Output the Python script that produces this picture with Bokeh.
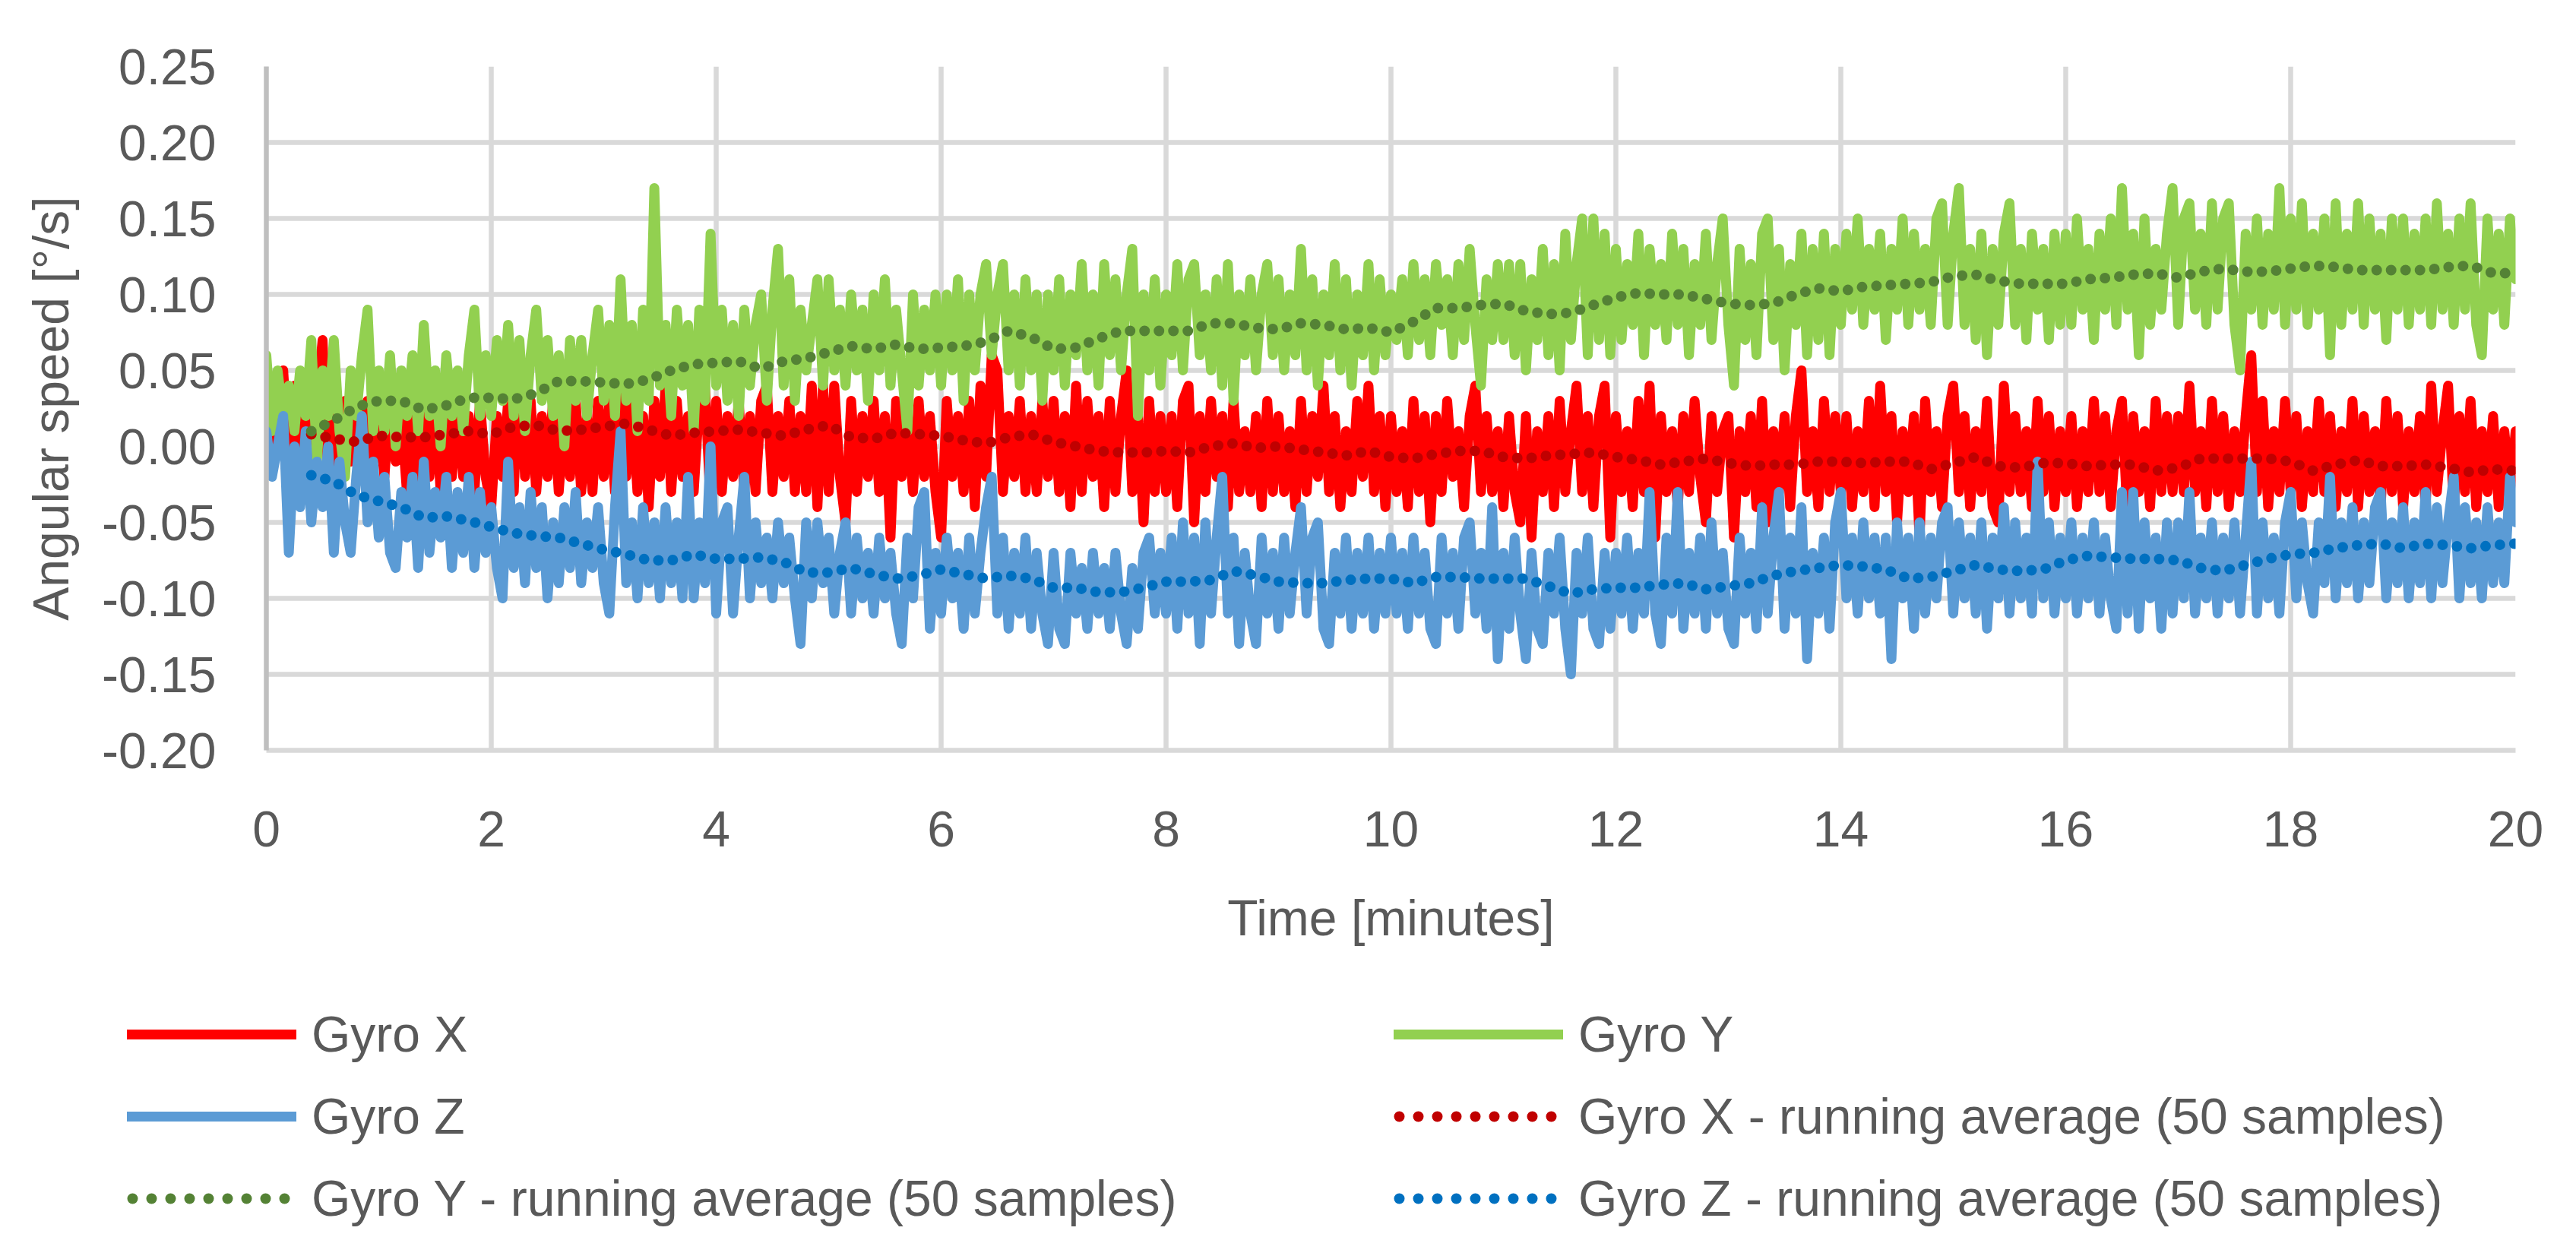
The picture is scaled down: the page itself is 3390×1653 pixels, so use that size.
from bokeh.plotting import figure
from bokeh.layouts import column
from bokeh.models import FixedTicker, NumeralTickFormatter, Legend, LegendItem, Range1d, ColumnDataSource
from bokeh.embed import file_html
from bokeh.resources import INLINE

# ---------------- data ----------------
# raw gyro readings, one value every 0.05 min, in units of 0.01 deg/s (one row per minute)
raw_time_min = [round(0.05 * i, 2) for i in range(401)]

gyro_x_centi = [
    1, -1, 3, 5, -1, 4, -2, 2, -1, 3, 7, -2, 2, -2, 3, -1, 2, -2, 3, -1,
    2, -2, 3, -1, 2, -3, 3, -2, 2, -2, 3, -3, 2, -2, 3, -2, 2, -3, 3, -2,
    -4, 2, -2, 3, -3, 6, -2, 3, -3, 2, -2, 3, -3, 2, -2, 3, -3, 2, -3, 3,
    -2, 3, -3, 4, -2, 3, -3, 2, -4, 3, -2, 4, -3, 3, -2, 2, -3, 3, 4, -4,
    3, -3, 2, -2, 3, -3, 2, -3, 3, 4, -3, 2, -2, 3, -3, 2, -3, 4, -4, 4,
    -3, 4, -2, -5, 3, -3, 2, -2, 3, -3, 2, -6, 3, -2, 2, -3, 3, -2, 2, -3,
    -6, 3, -2, 2, -3, 3, -4, 4, -2, 6, 5, -3, 2, -2, 3, -3, 2, -3, 3, -2,
    3, -3, 2, -4, 4, -3, 3, -2, 2, -4, 3, -3, 2, 5, -3, 2, -5, 3, -3, 2,
    -3, 2, -4, 3, 4, -5, 2, -3, 3, -2, 2, -4, 3, -3, 1, -3, 2, -4, 3, -3,
    2, -3, 1, -4, 3, -3, 2, -2, 4, -3, 2, -4, 1, -3, 3, -2, 4, -3, 2, -4,
    2, -3, 1, -4, 3, -3, 2, -5, 2, -3, 3, -2, 1, -4, 2, 4, -3, 2, -3, 1,
    -4, 2, -3, -5, 2, -6, 1, -3, 2, -4, 3, -3, 1, 4, -3, 2, -4, 2, 4, -6,
    2, -3, 1, -4, 3, -3, 4, -6, 2, -3, 1, -4, 2, -3, 3, -2, -5, 2, -3, 1,
    2, -6, 1, -3, 2, -4, 3, -5, 1, -3, 2, -4, 2, 5, -3, 1, -4, 3, -3, 2,
    -3, 2, -4, 1, -3, 3, -4, 4, -3, 2, -5, 1, -3, 2, -6, 3, -3, 1, -4, 2,
    4, -3, 2, -4, 1, -3, 3, -4, -5, 4, -3, 2, -3, 1, -4, 3, -3, 2, -4, 1,
    -3, 2, -4, 1, -3, 3, -3, 2, -4, 1, 3, -5, 2, -3, 1, -4, 3, -3, 2, -3,
    2, -3, 4, -3, 1, -4, 3, -3, 2, -4, 1, -3, 2, 6, -3, 3, -4, 1, -3, 3,
    -3, 2, -4, 1, -3, 3, -3, 2, -4, 1, -3, 3, -4, 2, -3, 1, -4, 3, -3, 2,
    -4, 1, -3, 2, -4, 4, -3, 1, 4, -4, 2, -3, 3, -4, 1, -3, 2, -4, 1, -3,
    1,
]

gyro_y_centi = [
    6, 1, 5, 2, 4, 1, 5, 2, 7, -1, 5, 2, 7, 1, -2, 5, 2, 6, 9, 1,
    5, 1, 6, 0, 5, 2, 6, 1, 8, 2, 5, 0, 6, 2, 5, 1, 6, 9, 2, 6,
    2, 7, 3, 8, 2, 7, 1, 6, 9, 3, 7, 2, 6, 0, 7, 3, 7, 2, 6, 9,
    3, 8, 2, 11, 3, 8, 1, 9, 3, 17, 4, 8, 2, 9, 4, 8, 1, 9, 3, 14,
    4, 9, 3, 8, 2, 9, 4, 8, 10, 3, 9, 13, 4, 11, 3, 9, 5, 8, 11, 4,
    11, 5, 9, 4, 10, 5, 9, 3, 10, 5, 11, 4, 9, 5, 1, 10, 4, 9, 5, 10,
    4, 10, 5, 11, 3, 10, 5, 10, 12, 6, 10, 12, 5, 10, 4, 11, 5, 10, 3, 10,
    5, 11, 4, 10, 6, 12, 5, 10, 4, 12, 6, 11, 5, 10, 13, 2, 10, 5, 11, 4,
    10, 6, 12, 5, 11, 12, 6, 10, 5, 11, 4, 12, 3, 10, 6, 11, 5, 10, 12, 6,
    11, 5, 10, 6, 13, 5, 11, 4, 10, 6, 12, 5, 11, 4, 10, 6, 12, 5, 11, 6,
    10, 7, 11, 6, 12, 7, 11, 6, 12, 8, 11, 6, 12, 7, 13, 8, 4, 11, 7, 12,
    7, 12, 6, 12, 5, 11, 7, 13, 6, 12, 5, 14, 7, 12, 15, 6, 15, 7, 14, 6,
    13, 7, 12, 8, 14, 6, 13, 8, 12, 7, 14, 8, 13, 6, 12, 8, 14, 7, 12, 15,
    8, 4, 13, 7, 12, 6, 14, 15, 7, 13, 5, 12, 8, 14, 6, 13, 7, 14, 6, 13,
    8, 14, 9, 15, 8, 13, 9, 14, 7, 13, 9, 15, 8, 14, 9, 13, 8, 15, 16, 8,
    14, 17, 8, 13, 7, 14, 6, 13, 8, 14, 16, 8, 13, 7, 14, 9, 13, 7, 14, 8,
    14, 8, 15, 9, 13, 7, 14, 9, 15, 8, 17, 9, 14, 6, 15, 8, 13, 9, 14, 17,
    8, 15, 16, 9, 14, 8, 16, 9, 15, 16, 8, 5, 14, 9, 15, 8, 14, 9, 17, 8,
    15, 9, 16, 8, 14, 9, 15, 6, 16, 8, 14, 9, 16, 8, 15, 9, 14, 7, 15, 9,
    15, 8, 14, 9, 15, 8, 16, 9, 14, 8, 15, 9, 16, 8, 6, 15, 9, 14, 8, 15,
    11,
]

gyro_z_centi = [
    1, -2, 0, 2, -7, 0, -4, 1, -5, -1, -4, 0, -7, -1, -5, -7, -2, 2, -5, -1,
    -6, -2, -7, -8, -3, -6, -2, -8, -1, -7, -3, -6, -2, -8, -3, -7, -2, -8, -3, -7,
    -4, -8, -10, -1, -8, -4, -9, -3, -8, -4, -10, -5, -9, -4, -8, -3, -9, -5, -8, -4,
    -9, -11, -4, 1, -9, -5, -10, -4, -9, -5, -10, -4, -9, -5, -10, -2, -10, -5, -9, 0,
    -11, -5, -4, -11, -6, -2, -10, -5, -9, -6, -10, -5, -9, -6, -10, -13, -5, -10, -5, -9,
    -6, -11, -7, -5, -11, -6, -10, -7, -11, -6, -10, -7, -11, -13, -6, -10, -4, -3, -12, -7,
    -11, -6, -10, -7, -12, -6, -11, -7, -4, -2, -11, -6, -12, -7, -11, -6, -12, -7, -11, -13,
    -7, -12, -13, -7, -11, -8, -12, -7, -11, -8, -12, -7, -11, -13, -8, -12, -7, -6, -11, -7,
    -11, -6, -12, -5, -11, -6, -13, -5, -11, -6, -2, -11, -6, -13, -7, -11, -13, -6, -11, -7,
    -12, -6, -11, -7, -4, -11, -6, -5, -12, -13, -7, -11, -6, -12, -7, -11, -6, -12, -7, -11,
    -6, -11, -7, -12, -6, -11, -7, -12, -13, -6, -11, -7, -12, -6, -5, -11, -7, -12, -4, -14,
    -7, -12, -6, -11, -14, -7, -12, -13, -7, -11, -6, -12, -15, -7, -11, -6, -12, -13, -7, -12,
    -7, -11, -6, -12, -7, -11, -3, -11, -13, -6, -11, -3, -12, -7, -11, -6, -12, -5, -11, -7,
    -12, -13, -6, -11, -7, -12, -4, -11, -6, -3, -12, -6, -11, -4, -14, -7, -11, -6, -12, -5,
    -3, -10, -6, -11, -5, -10, -6, -11, -6, -14, -5, -10, -6, -12, -5, -11, -6, -10, -5, -4,
    -11, -5, -10, -6, -11, -5, -12, -6, -10, -4, -11, -5, -10, -6, -11, -1, -10, -5, -11, -6,
    -10, -5, -11, -6, -10, -5, -11, -6, -10, -12, -3, -11, -3, -12, -5, -10, -6, -12, -5, -11,
    -5, -10, -3, -11, -6, -10, -5, -11, -6, -10, -5, -11, -6, -1, -11, -5, -10, -6, -11, -5,
    -3, -10, -5, -9, -11, -5, -9, -2, -10, -5, -9, -4, -10, -5, -9, -4, -3, -10, -5, -9,
    -4, -10, -5, -9, -3, -10, -4, -9, -5, -2, -10, -4, -9, -5, -10, -4, -9, -5, -9, -2,
    -5,
]

# running averages (50 samples), one value every 0.2 min from 0.4 min, deg/s
avg_time_min = [round(0.4 + 0.2 * i, 1) for i in range(99)]

avg_x = [
    0.008, 0.005, 0.003, 0.007, 0.006, 0.006, 0.008, 0.010, 0.008, 0.013,
    0.014, 0.010, 0.011, 0.013, 0.015, 0.011, 0.007, 0.009, 0.010, 0.011,
    0.009, 0.007, 0.011, 0.014, 0.006, 0.005, 0.009, 0.008, 0.007, 0.004,
    0.002, 0.006, 0.008, 0.003, 0.000, -0.003, -0.004, -0.004, -0.003, -0.004,
    0.000, 0.002, -0.001, 0.000, -0.002, -0.004, -0.006, -0.003, -0.007, -0.008,
    -0.005, -0.003, -0.003, -0.007, -0.008, -0.006, -0.005, -0.004, -0.007, -0.009,
    -0.012, -0.010, -0.008, -0.011, -0.013, -0.012, -0.012, -0.010, -0.010, -0.011,
    -0.010, -0.010, -0.015, -0.011, -0.007, -0.013, -0.014, -0.011, -0.011, -0.013,
    -0.012, -0.012, -0.016, -0.014, -0.008, -0.008, -0.008, -0.008, -0.010, -0.016,
    -0.012, -0.009, -0.013, -0.013, -0.012, -0.014, -0.017, -0.015, -0.016,
]

avg_y = [
    0.010, 0.017, 0.026, 0.030, 0.030, 0.024, 0.027, 0.032, 0.032, 0.031,
    0.035, 0.043, 0.043, 0.042, 0.041, 0.044, 0.050, 0.054, 0.055, 0.056,
    0.051, 0.056, 0.058, 0.062, 0.066, 0.064, 0.067, 0.064, 0.065, 0.066,
    0.069, 0.076, 0.072, 0.064, 0.065, 0.071, 0.076, 0.076, 0.076, 0.076,
    0.081, 0.081, 0.078, 0.077, 0.081, 0.080, 0.077, 0.078, 0.075, 0.082,
    0.091, 0.091, 0.093, 0.094, 0.089, 0.087, 0.088, 0.093, 0.098, 0.101,
    0.100, 0.100, 0.097, 0.094, 0.093, 0.094, 0.100, 0.104, 0.102, 0.105,
    0.106, 0.107, 0.108, 0.112, 0.113, 0.109, 0.107, 0.107, 0.107, 0.110,
    0.111, 0.113, 0.114, 0.111, 0.115, 0.117, 0.115, 0.115, 0.117, 0.119,
    0.118, 0.116, 0.116, 0.116, 0.116, 0.118, 0.119, 0.114, 0.114,
]

avg_z = [
    -0.019, -0.023, -0.032, -0.036, -0.040, -0.047, -0.046, -0.049, -0.053, -0.057,
    -0.059, -0.060, -0.064, -0.068, -0.071, -0.075, -0.075, -0.071, -0.074, -0.074,
    -0.073, -0.076, -0.083, -0.083, -0.080, -0.084, -0.087, -0.085, -0.081, -0.084,
    -0.087, -0.085, -0.087, -0.093, -0.093, -0.096, -0.096, -0.093, -0.089, -0.089,
    -0.088, -0.082, -0.085, -0.089, -0.090, -0.090, -0.088, -0.087, -0.087, -0.090,
    -0.086, -0.086, -0.087, -0.087, -0.087, -0.092, -0.097, -0.094, -0.093, -0.093,
    -0.091, -0.090, -0.094, -0.092, -0.090, -0.085, -0.082, -0.080, -0.078, -0.079,
    -0.081, -0.087, -0.086, -0.082, -0.078, -0.081, -0.082, -0.081, -0.075, -0.072,
    -0.073, -0.074, -0.074, -0.075, -0.080, -0.082, -0.078, -0.074, -0.071, -0.070,
    -0.067, -0.065, -0.064, -0.067, -0.064, -0.065, -0.067, -0.065, -0.064,
]

x_ticks = [0, 2, 4, 6, 8, 10, 12, 14, 16, 18, 20]
y_ticks = [-0.20, -0.15, -0.10, -0.05, 0.00, 0.05, 0.10, 0.15, 0.20, 0.25]

series_labels = ["Gyro X", "Gyro Y", "Gyro Z",
                 "Gyro X - running average (50 samples)",
                 "Gyro Y - running average (50 samples)",
                 "Gyro Z - running average (50 samples)"]

# ---------------- styling ----------------
FONT = "Liberation Sans"
TEXT = "#595959"
GRID = "#D9D9D9"
raw_colors = ["#FF0000", "#92D050", "#5B9BD5"]
avg_colors = ["#C00000", "#548235", "#0070C0"]

W = 3374
H_CHART = 1300
H_LEG = 330

p = figure(width=W, height=H_CHART, output_backend="svg", toolbar_location=None,
           x_range=Range1d(0, 20), y_range=Range1d(-0.2, 0.25),
           min_border_left=350, min_border_right=64, min_border_top=87,
           min_border_bottom=H_CHART - 987)
p.outline_line_color = None
p.background_fill_color = "white"
p.border_fill_color = "white"

p.xaxis.ticker = FixedTicker(ticks=x_ticks)
p.yaxis.ticker = FixedTicker(ticks=y_ticks)
p.xgrid.ticker = FixedTicker(ticks=x_ticks)
p.ygrid.ticker = FixedTicker(ticks=y_ticks)
p.yaxis.formatter = NumeralTickFormatter(format="0.00")
for g in (p.xgrid[0], p.ygrid[0]):
    g.grid_line_color = GRID
    g.grid_line_width = 6.5

for ax in (p.xaxis[0], p.yaxis[0]):
    ax.major_tick_line_color = None
    ax.minor_tick_line_color = None
    ax.major_tick_in = 0
    ax.major_tick_out = 0
    ax.minor_tick_in = 0
    ax.minor_tick_out = 0
    ax.major_label_text_font = FONT
    ax.major_label_text_font_size = "66px"
    ax.major_label_text_color = TEXT
    ax.axis_label_text_font = FONT
    ax.axis_label_text_font_size = "66px"
    ax.axis_label_text_color = TEXT
    ax.axis_label_text_font_style = "normal"
    ax.axis_line_width = 6.5

p.xaxis.axis_line_color = GRID
p.yaxis.axis_line_color = "#BFBFBF"
p.xaxis.axis_label = "Time [minutes]"
p.yaxis.axis_label = "Angular speed [°/s]"
p.xaxis.major_label_standoff = 80
p.xaxis.axis_label_standoff = 54
p.yaxis.major_label_standoff = 66
p.yaxis.axis_label_standoff = 27

raw_src = ColumnDataSource(dict(t=raw_time_min,
                                gx=[v / 100 for v in gyro_x_centi],
                                gy=[v / 100 for v in gyro_y_centi],
                                gz=[v / 100 for v in gyro_z_centi]))
avg_src = ColumnDataSource(dict(t=avg_time_min, ax=avg_x, ay=avg_y, az=avg_z))

for col, c in zip(["gx", "gy", "gz"], raw_colors):
    p.line("t", col, source=raw_src, line_color=c, line_width=13,
           line_cap="round", line_join="round")
for col, c in zip(["ax", "ay", "az"], avg_colors):
    p.line("t", col, source=avg_src, line_color=c, line_width=14,
           line_dash="0 19", line_cap="round", line_join="round")

# ---------------- legend (separate strip below the chart) ----------------
q = figure(width=W, height=H_LEG, output_backend="svg", toolbar_location=None,
           x_range=Range1d(0, 1), y_range=Range1d(0, 1),
           x_axis_location=None, y_axis_location=None,
           min_border_left=0, min_border_right=0, min_border_top=0, min_border_bottom=0)
q.outline_line_color = None
q.grid.visible = False
q.background_fill_color = "white"
q.border_fill_color = "white"

# legend sample renderers: their points lie outside the visible range
off_x = [5, 6]
off_y = [5, 5]
leg_r = []
for c in raw_colors:
    leg_r.append(q.line(x=off_x, y=off_y, line_color=c, line_width=13, line_cap="round"))
for c in avg_colors:
    leg_r.append(q.line(x=off_x, y=off_y, line_color=c, line_width=14, line_dash="0 25",
                        line_dash_offset=18, line_cap="round"))


def make_legend(idx, loc):
    lg = Legend(items=[LegendItem(label=series_labels[i], renderers=[leg_r[i]]) for i in idx],
                location=loc, orientation="vertical")
    lg.label_text_font = FONT
    lg.label_text_font_size = "66px"
    lg.label_text_color = TEXT
    lg.glyph_width = 223
    lg.glyph_height = 76
    lg.label_height = 76
    lg.label_standoff = 20
    lg.spacing = 32
    lg.padding = 0
    lg.margin = 0
    lg.border_line_color = None
    lg.background_fill_alpha = 0
    return lg


q.add_layout(make_legend([0, 2, 4], (167, 15)))
q.add_layout(make_legend([1, 3, 5], (1834, 15)))

if "frame_align" in q.properties():
    q.frame_align = False
    p.frame_align = False
    out = column(p, q, spacing=0)
else:
    out = [p, q]

open("out.html", "w").write(file_html(out, INLINE))
